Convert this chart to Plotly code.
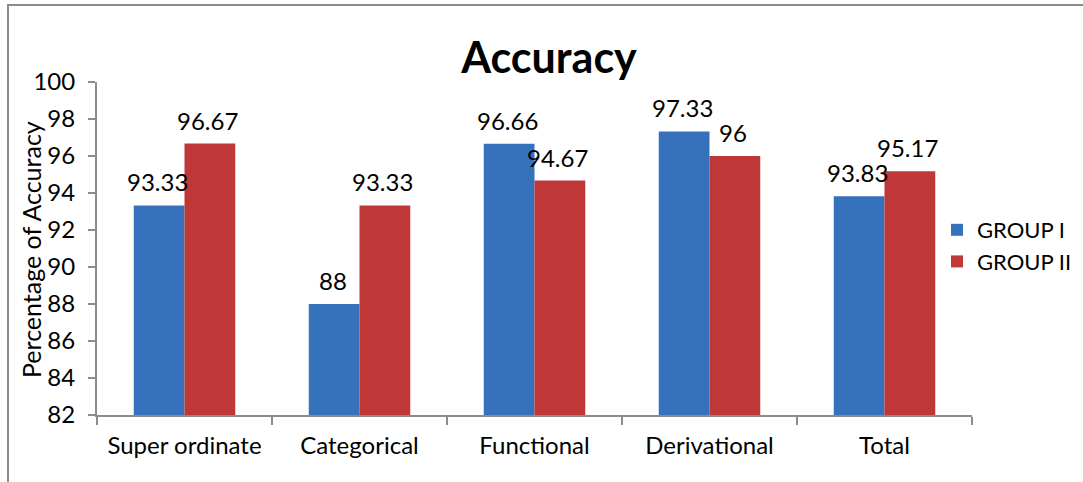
import plotly.graph_objects as go

categories = ["Super ordinate", "Categorical", "Functional", "Derivational", "Total"]
group1 = [93.33, 88, 96.66, 97.33, 93.83]
group2 = [96.67, 93.33, 94.67, 96, 95.17]
series_names = ["GROUP I", "GROUP II"]
y_ticks = [82, 84, 86, 88, 90, 92, 94, 96, 98, 100]

FONT = "Lato, 'Open Sans', sans-serif"
W, H = 1083, 482
L, R, T, B = 97, 111, 82, 67
pw, ph = W - L - R, H - T - B

fig = go.Figure()
series = [(series_names[0], group1, "#3672BC", -25),
          (series_names[1], group2, "#BF3737", 25)]
for name, vals, color, dx in series:
    fig.add_trace(go.Bar(
        x=categories, y=vals, name=name,
        marker=dict(color=color, line=dict(width=0)),
    ))
    # value labels floating above each bar
    for c, v in zip(categories, vals):
        fig.add_annotation(x=c, y=v, text=f"{v:g}", showarrow=False,
                           xshift=dx - 2, yshift=7, yanchor="bottom",
                           font=dict(size=24, family=FONT, color="#000"))

# y-axis title placed as a rotated annotation
fig.add_annotation(xref="paper", yref="paper", x=(31 - L) / pw, y=(415 - 250) / ph,
                   text="Percentage of Accuracy", textangle=-90, showarrow=False,
                   xanchor="center", yanchor="middle",
                   font=dict(size=25, family=FONT, color="#000"))

# outer chart border (runs off the right/bottom edge)
fig.add_shape(type="rect", xref="paper", yref="paper",
              x0=(8 - L) / pw, x1=(W + 20 - L) / pw,
              y0=-(H + 20 - T - ph) / ph, y1=(H - 5 - B) / ph,
              line=dict(color="#8c8c8c", width=2), layer="below")

fig.update_layout(
    width=W, height=H,
    margin=dict(l=L, r=R, t=T, b=B, autoexpand=False),
    paper_bgcolor="white", plot_bgcolor="white",
    barmode="group", bargap=0.42, bargroupgap=0,
    title=dict(text="<b>Accuracy</b>", x=549 / W, xanchor="center",
               y=1 - 58 / H, yanchor="middle",
               font=dict(size=43, family=FONT, color="#000")),
    font=dict(family=FONT, color="#000"),
    legend=dict(x=(937 - L) / pw, xanchor="left", y=(415 - 246) / ph, yanchor="middle",
                font=dict(size=22, family=FONT), bgcolor="rgba(0,0,0,0)",
                itemwidth=30, tracegroupgap=0),
    xaxis=dict(showline=True, linecolor="#8c8c8c", linewidth=2,
               ticks="outside", tickson="boundaries", ticklen=8, tickcolor="#8c8c8c",
               tickwidth=2, tickfont=dict(size=24, family=FONT), showgrid=False,
               ticklabelstandoff=8),
    yaxis=dict(range=[82, 100], tickvals=y_ticks, showline=True, linecolor="#8c8c8c",
               linewidth=2, ticks="outside", ticklen=7, tickcolor="#8c8c8c", tickwidth=2,
               tickfont=dict(size=24, family=FONT), showgrid=False, zeroline=False,
               ticklabelstandoff=8),
)

fig.write_html("out.html")
